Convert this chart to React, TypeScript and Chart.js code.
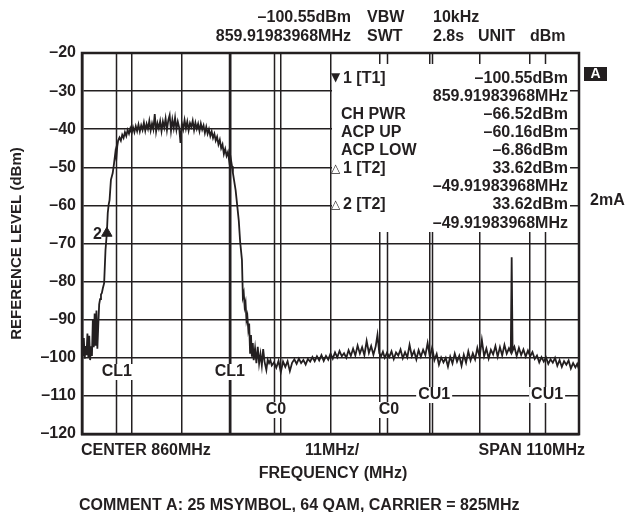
import React, { useEffect, useRef } from 'react';
import { Chart, registerables } from 'chart.js';

Chart.register(...registerables);

const FONT = '"Liberation Sans", Arial, Helvetica, sans-serif';
const INK = '#231f20';

// Axis / grid
const gridFreqMHz = [805, 816, 827, 838, 849, 860, 871, 882, 893, 904, 915];
const yMin = -120;
const yMax = -20;
const yStep = 10;

// Channel marker lines
const channelLowerMHz = [812.5, 837.5]; // CL1
const channelMainMHz = [847.5, 872.5]; // C0
const channelUpperMHz = [882.5, 907.5]; // CU1

// Spectrum trace
const traceFreqMHz = [
  805.0, 805.2, 805.4, 805.6, 805.8, 806.0, 806.2, 806.4, 806.6, 806.8,
  807.0, 807.2, 807.4, 807.6, 807.8, 808.0, 808.2, 808.4, 808.6, 808.8,
  809.0, 809.2, 809.4, 809.6, 809.9, 810.2, 810.5, 810.7, 810.9, 811.1,
  811.4, 811.8, 812.1, 812.4, 812.6, 812.8, 813.0, 813.3, 813.6, 813.9,
  814.2, 814.5, 814.8, 815.1, 815.4, 815.7, 816.0, 816.3, 816.6, 816.9,
  817.2, 817.5, 817.8, 818.1, 818.4, 818.7, 819.0, 819.3, 819.6, 819.9,
  820.2, 820.5, 820.8, 821.1, 821.4, 821.7, 822.0, 822.3, 822.6, 822.9,
  823.2, 823.5, 823.8, 824.1, 824.4, 824.7, 825.0, 825.3, 825.6, 825.9,
  826.2, 826.5, 826.8, 827.1, 827.4, 827.7, 828.0, 828.3, 828.6, 828.9,
  829.2, 829.5, 829.8, 830.1, 830.4, 830.7, 831.0, 831.3, 831.6, 831.9,
  832.2, 832.5, 832.8, 833.1, 833.4, 833.7, 834.0, 834.3, 834.6, 834.9,
  835.2, 835.5, 835.8, 836.1, 836.4, 836.7, 837.0, 837.3, 837.6, 837.9,
  838.2, 838.4, 839.0, 839.3, 839.7, 840.0, 840.4, 840.6, 840.8, 841.0,
  841.2, 841.4, 841.6, 841.8, 842.0, 842.2, 842.4, 842.6, 842.8, 843.0,
  843.3, 843.6, 843.9, 844.2, 844.5, 844.8, 845.1, 845.4, 845.8, 846.1,
  846.4, 846.7, 847.0, 847.5, 848.0, 848.5, 849.0, 849.5, 850.0, 850.5,
  851.0, 851.5, 852.0, 852.5, 853.0, 853.5, 854.0, 854.5, 855.0, 855.5,
  856.0, 856.5, 857.0, 857.5, 858.0, 858.5, 859.0, 859.5, 860.0, 860.5,
  861.0, 861.5, 862.0, 862.5, 863.0, 863.5, 864.0, 864.5, 865.0, 865.5,
  866.0, 866.5, 867.0, 867.5, 868.0, 868.5, 869.0, 869.5, 870.0, 870.4,
  870.8, 871.2, 871.6, 872.0, 872.5, 873.0, 873.5, 874.0, 874.5, 875.0,
  875.5, 876.0, 876.5, 877.0, 877.5, 878.0, 878.5, 879.0, 879.5, 880.0,
  880.5, 881.0, 881.5, 882.0, 882.5, 883.0, 883.5, 884.0, 884.5, 885.0,
  885.5, 886.0, 886.5, 887.0, 887.5, 888.0, 888.5, 889.0, 889.5, 890.0,
  890.5, 891.0, 891.5, 892.0, 892.5, 893.0, 893.5, 894.0, 894.5, 895.0,
  895.5, 896.0, 896.5, 897.0, 897.5, 898.0, 898.5, 899.0, 899.5, 899.9,
  900.1, 900.3, 900.7, 901.2, 901.7, 902.2, 902.7, 903.2, 903.7, 904.2,
  904.7, 905.2, 905.7, 906.2, 906.7, 907.2, 907.7, 908.2, 908.7, 909.2,
  909.7, 910.2, 910.7, 911.2, 911.7, 912.2, 912.7, 913.2, 913.7, 914.2,
  914.6, 915.0,
];

const traceLevelDbm = [
  -96.5, -99.6, -94.8, -100.2, -96.9, -99.3, -93.6, -99.8, -94.2, -100.6,
  -97.0, -99.5, -90.0, -97.2, -88.4, -96.8, -87.6, -97.6, -91.5, -86.0,
  -84.6, -83.4, -83.0, -81.8, -80.4, -71.7, -67.3, -62.0, -59.8, -58.6,
  -53.3, -51.5, -48.9, -46.0, -47.6, -44.5, -43.0, -42.2, -43.0, -41.5,
  -42.3, -40.8, -41.8, -40.2, -41.2, -39.8, -41.0, -39.5, -40.8, -39.2,
  -40.5, -38.8, -40.6, -39.0, -40.2, -38.3, -40.4, -38.6, -39.9, -37.8,
  -40.3, -38.5, -40.0, -36.0, -40.6, -38.4, -39.8, -37.9, -40.5, -38.0,
  -39.6, -37.2, -40.2, -37.6, -36.3, -40.4, -37.5, -39.7, -37.0, -40.1,
  -38.0, -39.5, -43.6, -38.5, -40.0, -37.6, -39.8, -38.0, -40.3, -38.4,
  -39.4, -37.8, -40.2, -38.3, -39.9, -38.6, -40.5, -38.5, -40.1, -39.0,
  -41.0, -39.4, -41.2, -40.0, -41.8, -40.6, -42.3, -41.2, -43.0, -42.0,
  -44.0, -42.8, -45.0, -44.0, -46.5, -45.2, -47.0, -46.0, -48.5, -47.5,
  -49.7, -51.5, -56.0, -59.4, -64.0, -69.5, -74.3, -84.0, -83.0, -86.6,
  -85.5, -90.1, -89.0, -92.5, -91.0, -98.7, -94.0, -99.7, -96.1, -100.6,
  -97.5, -101.4, -97.1, -101.5, -99.0, -102.0, -97.7, -101.0, -103.2, -100.5,
  -101.4, -100.6, -102.0, -101.2, -102.6, -100.8, -103.8, -101.0, -102.4, -100.9,
  -103.5, -101.3, -100.4, -101.6, -100.2, -101.4, -100.6, -101.8, -100.3, -101.0,
  -99.8, -100.9, -99.6, -100.7, -99.3, -100.8, -99.5, -100.5, -98.9, -100.2,
  -98.6, -99.9, -98.2, -99.6, -98.8, -100.0, -98.0, -99.5, -97.6, -99.4,
  -96.8, -98.9, -97.2, -99.3, -95.6, -98.7, -96.9, -99.2, -97.0, -94.0,
  -98.8, -99.6, -98.4, -100.0, -98.7, -99.8, -98.3, -100.3, -98.6, -99.4,
  -97.8, -100.1, -98.5, -99.9, -96.6, -99.6, -98.2, -100.4, -98.0, -99.7,
  -97.9, -99.3, -96.1, -99.8, -97.3, -100.6, -99.0, -101.8, -99.9, -101.2,
  -100.0, -102.3, -99.7, -101.5, -98.9, -101.0, -99.5, -102.1, -99.2, -101.3,
  -98.3, -100.7, -98.8, -100.4, -97.4, -99.8, -95.3, -99.6, -97.6, -100.2,
  -97.9, -99.1, -96.9, -99.7, -97.2, -99.4, -96.6, -98.9, -97.5, -98.5,
  -73.6, -98.2, -97.1, -99.5, -97.4, -99.3, -97.8, -99.7, -98.1, -99.6,
  -98.5, -100.3, -99.4, -101.2, -99.8, -101.0, -99.9, -101.6, -100.4, -101.3,
  -100.0, -102.1, -100.6, -102.4, -100.9, -101.8, -100.7, -102.8, -101.4, -102.5,
  -101.6, -103.0,
];

// Marker 2
const marker2FreqMHz = [810.5];
const marker2LevelDbm = [-67.3];

// Text
const headerLeftCol = ['–100.55dBm', '859.91983968MHz'];
const headerKeys = ['VBW', 'SWT'];
const headerVals = ['10kHz', '2.8s'];
const readoutGlyphs = ['▼', '', '', '', '', '△', '', '△', ''];
const readoutLabels = ['1 [T1]', '', 'CH PWR', 'ACP UP', 'ACP LOW', '1 [T2]', '', '2 [T2]', ''];
const readoutValues = [
  '–100.55dBm', '859.91983968MHz', '–66.52dBm', '–60.16dBm', '–6.86dBm',
  '33.62dBm', '–49.91983968MHz', '33.62dBm', '–49.91983968MHz',
];

function drawText(ctx: CanvasRenderingContext2D, s: string, x: number, y: number,
  align: CanvasTextAlign = 'left', size = 16, color = INK, family = FONT) {
  ctx.font = `bold ${size}px ${family}`;
  ctx.textAlign = align;
  ctx.textBaseline = 'middle';
  ctx.fillStyle = color;
  ctx.fillText(s, x, y);
}

function drawLabel(ctx: CanvasRenderingContext2D, s: string, cx: number, cy: number) {
  ctx.font = `bold 16px ${FONT}`;
  const w = ctx.measureText(s).width;
  ctx.fillStyle = '#fff';
  ctx.fillRect(cx - w / 2 - 2, cy - 8, w + 4, 16);
  drawText(ctx, s, cx, cy, 'center');
}

const overlay = {
  id: 'overlay',
  beforeDatasetsDraw(chart: any) {
    const { ctx, chartArea: a, scales } = chart;
    const x = scales.x;
    ctx.save();
    ctx.strokeStyle = INK;
    ctx.lineWidth = 1.5;
    [...channelLowerMHz, ...channelMainMHz, ...channelUpperMHz].forEach((f) => {
      const px = Math.round(x.getPixelForValue(f)) + 0.5;
      ctx.beginPath();
      ctx.moveTo(px, a.top);
      ctx.lineTo(px, a.bottom);
      ctx.stroke();
    });
    ctx.restore();
  },
  afterDatasetsDraw(chart: any) {
    const { ctx, chartArea: a, scales } = chart;
    const x = scales.x;
    const y = scales.y;
    ctx.save();

    // readout box
    ctx.fillStyle = '#fff';
    ctx.fillRect(332, 64, 238, 168);
    const rowY0 = 78.3;
    const rowStep = 18.1;
    readoutValues.forEach((v, i) => {
      const ry = rowY0 + i * rowStep;
      if (readoutGlyphs[i]) {
        drawText(ctx, readoutGlyphs[i], 331, ry, 'left', 12, INK, '"DejaVu Sans", sans-serif');
        drawText(ctx, readoutLabels[i], 343, ry);
      } else if (readoutLabels[i]) {
        drawText(ctx, readoutLabels[i], 341, ry);
      }
      drawText(ctx, v, 568, ry, 'right');
    });

    // frame
    ctx.strokeStyle = INK;
    ctx.lineWidth = 2.5;
    ctx.strokeRect(a.left, a.top, a.right - a.left, a.bottom - a.top);

    // channel labels
    channelLowerMHz.forEach((f) => drawLabel(ctx, 'CL1', x.getPixelForValue(f) + 1, 372));
    channelMainMHz.forEach((f) => drawLabel(ctx, 'C0', x.getPixelForValue(f) + 2, 410));
    channelUpperMHz.forEach((f) => drawLabel(ctx, 'CU1', x.getPixelForValue(f) + 2, 395));

    // marker 2 label
    const mx = x.getPixelForValue(marker2FreqMHz[0]);
    const my = y.getPixelForValue(marker2LevelDbm[0]);
    drawText(ctx, '2', mx - 5, my + 1, 'right');

    // header
    drawText(ctx, headerLeftCol[0], 351, 18, 'right');
    drawText(ctx, headerLeftCol[1], 351, 37, 'right');
    drawText(ctx, headerKeys[0], 367, 18);
    drawText(ctx, headerKeys[1], 367, 37);
    drawText(ctx, headerVals[0], 433, 18);
    drawText(ctx, headerVals[1], 433, 37);
    drawText(ctx, 'UNIT', 478, 37);
    drawText(ctx, 'dBm', 530, 37);

    // A badge and 2mA
    ctx.fillStyle = INK;
    ctx.fillRect(584, 67, 23, 14);
    drawText(ctx, 'A', 595.5, 74.5, 'center', 14, '#fff');
    drawText(ctx, '2mA', 590, 201);

    // y title
    ctx.save();
    ctx.translate(17, (a.top + a.bottom) / 2);
    ctx.rotate(-Math.PI / 2);
    drawText(ctx, 'REFERENCE LEVEL (dBm)', 0, 0, 'center', 15);
    ctx.restore();

    // bottom texts
    drawText(ctx, 'CENTER 860MHz', 81, 451);
    drawText(ctx, '11MHz/', 305, 451);
    drawText(ctx, 'SPAN 110MHz', 585, 451, 'right');
    drawText(ctx, 'FREQUENCY (MHz)', 333, 474, 'center');
    drawText(ctx, 'COMMENT A: 25 MSYMBOL, 64 QAM, CARRIER = 825MHz', 79, 506);

    ctx.restore();
  },
};

export default function App() {
  const ref = useRef<HTMLCanvasElement>(null);
  useEffect(() => {
    const canvas = ref.current;
    if (!canvas) return;
    const chart = new Chart(canvas, {
      type: 'line',
      data: {
        datasets: [
          {
            data: traceFreqMHz.map((f, i) => ({ x: f, y: traceLevelDbm[i] })),
            borderColor: INK,
            borderWidth: 1.8,
            pointRadius: 0,
            tension: 0,
            fill: false,
          },
          {
            type: 'scatter',
            data: marker2FreqMHz.map((f, i) => ({ x: f, y: marker2LevelDbm[i] })),
            pointStyle: 'triangle',
            pointRadius: 6,
            backgroundColor: INK,
            borderColor: INK,
            borderWidth: 1,
          } as any,
        ],
      },
      options: {
        animation: false,
        responsive: false,
        devicePixelRatio: 1,
        layout: { padding: { top: 53, right: 47, bottom: 78, left: 0 } },
        plugins: { legend: { display: false }, tooltip: { enabled: false } },
        scales: {
          x: {
            type: 'linear',
            min: gridFreqMHz[0],
            max: gridFreqMHz[gridFreqMHz.length - 1],
            afterBuildTicks: (s: any) => {
              s.ticks = gridFreqMHz.map((v) => ({ value: v }));
            },
            ticks: { display: false },
            grid: { color: INK, lineWidth: 1.5, drawTicks: false },
            border: { display: true, color: INK, width: 2.5 },
          },
          y: {
            min: yMin,
            max: yMax,
            ticks: {
              stepSize: yStep,
              color: INK,
              padding: 6,
              font: { family: FONT, size: 16, weight: 'bold' },
              callback: (v: any) => (Number(v) < 0 ? '–' + Math.abs(Number(v)) : String(v)),
            },
            grid: { color: INK, lineWidth: 1.5, drawTicks: false },
            border: { display: true, color: INK, width: 2.5 },
            afterFit: (s: any) => {
              s.width = 82;
            },
          },
        },
      },
      plugins: [overlay],
    });
    return () => chart.destroy();
  }, []);
  return (
    <div style={{ position: 'absolute', left: 0, top: 0, width: 626, height: 512, background: '#fff' }}>
      <canvas ref={ref} width={626} height={512} style={{ display: 'block' }} />
    </div>
  );
}
